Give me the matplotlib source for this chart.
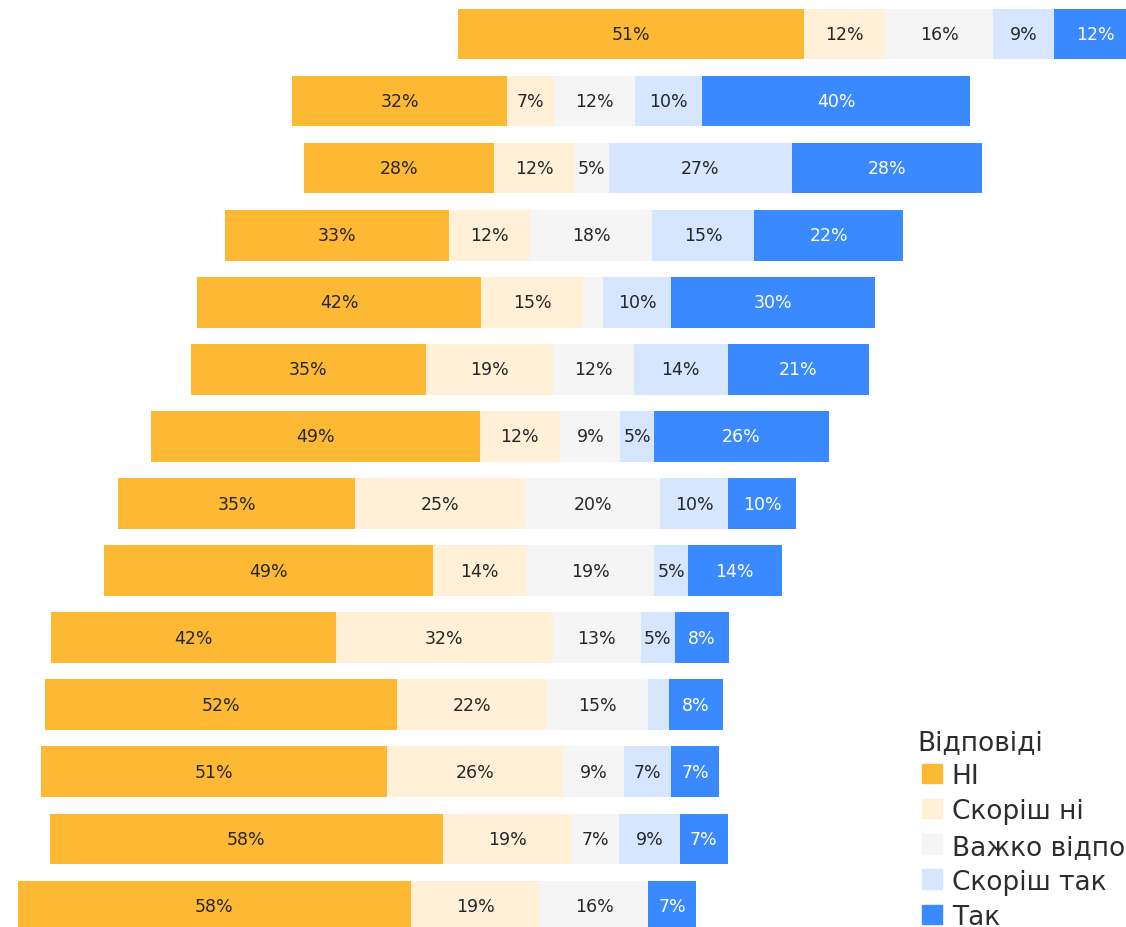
import numpy as np
import matplotlib.pyplot as plt
from matplotlib.patches import Rectangle

# answer categories, left to right
categories = ['НІ', 'Скоріш ні', 'Важко відповісти', 'Скоріш так', 'Так']
colors = ['#FDB933', '#FFF0D7', '#F5F5F5', '#D6E6FF', '#3A89FF']

# shares per row (top to bottom), %
ni = [51, 32, 28, 33, 42, 35, 49, 35, 49, 42, 52, 51, 58, 58]
rather_ni = [12, 7, 12, 12, 15, 19, 12, 25, 14, 32, 22, 26, 19, 19]
hard = [16, 12, 5, 18, 3, 12, 9, 20, 19, 13, 15, 9, 7, 16]
rather_yes = [9, 10, 27, 15, 10, 14, 5, 10, 5, 5, 3, 7, 9, 0]
yes = [12, 40, 28, 22, 30, 21, 26, 10, 14, 8, 8, 7, 7, 7]
# where each bar starts (invisible base series), %
offset = [64.9, 40.5, 42.2, 30.6, 26.4, 25.5, 19.6, 14.8, 12.7, 4.9, 4.0, 3.4, 4.7, 0.0]

W, H = 1126, 928
fig = plt.figure(figsize=(W / 100, H / 100), dpi=100)
ax = fig.add_axes([0, 0, 1, 1])

vals = np.array([ni, rather_ni, hard, rather_yes, yes], dtype=float)
shares = vals / vals.sum(axis=0) * 100
rows = np.arange(len(ni))

left = np.array(offset, dtype=float)
for k in range(len(categories)):
    ax.barh(rows, shares[k], left=left, height=0.75, color=colors[k])
    for r in rows:
        if vals[k, r] >= 4:
            ax.text(left[r] + shares[k, r] / 2, r, f'{int(vals[k, r])}%',
                    ha='center', va='center', fontsize=12.5,
                    color='white' if k == 4 else '#262626')
    left = left + shares[k]

px = 6.78  # pixels per percent
ax.set_xlim(-17.7 / px, (W - 17.7) / px)
ax.set_ylim((H - 35.3) / 67.03, -35.3 / 67.03)
ax.axis('off')

# legend
fig.text(917 / W, 1 - 750 / H, 'Відповіді', fontsize=19, color='#2d2d2d',
         va='baseline')
for i, (cat, col) in enumerate(zip(categories, colors)):
    base = 784 + 35.3 * i
    fig.add_artist(Rectangle((921.7 / W, 1 - base / H), 20 / W, 19.5 / H,
                             transform=fig.transFigure, color=col))
    fig.text(951.7 / W, 1 - base / H, cat, fontsize=19, color='#2d2d2d',
             va='baseline')

fig.savefig('out.png', dpi=100)
